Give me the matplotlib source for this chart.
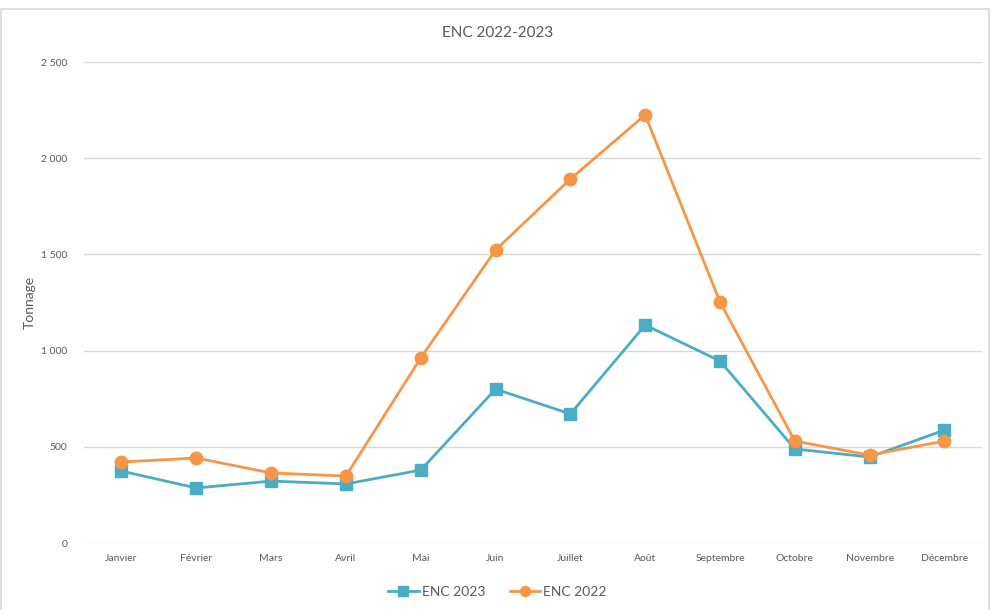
import matplotlib
matplotlib.use("Agg")
from matplotlib import pyplot as plt
from matplotlib.patches import Rectangle
from matplotlib.ticker import FuncFormatter

plt.rcParams['font.family'] = ['Lato', 'DejaVu Sans']

mois = ['Janvier', 'Février', 'Mars', 'Avril', 'Mai', 'Juin', 'Juillet',
        'Août', 'Septembre', 'Octobre', 'Novembre', 'Décembre']
enc_2023 = [374, 286, 322, 307, 379, 800, 671, 1133, 946, 489, 447, 587]
enc_2022 = [421, 442, 364, 348, 962, 1523, 1892, 2225, 1253, 530, 457, 530]

blue = '#4BACC6'
orange = '#F79646'
txt = '#595959'

fig = plt.figure(figsize=(9.91, 6.10), dpi=100)
# cadre du graphique
fig.patches.append(Rectangle((0.001, -0.01), 0.997, 0.995, transform=fig.transFigure,
                             fill=False, edgecolor='#D9D9D9', linewidth=1.2))

ax = fig.add_axes([0.0848, 0.1098, 0.906, 0.7885])
x = range(len(mois))
ax.plot(x, enc_2023, color=blue, linewidth=2, marker='s', markersize=9, label='ENC 2023')
ax.plot(x, enc_2022, color=orange, linewidth=2, marker='o', markersize=9, label='ENC 2022')

ax.set_xlim(-0.5, 11.5)
ax.set_ylim(0, 2500)
ax.set_yticks(range(0, 2501, 500))
ax.yaxis.set_major_formatter(FuncFormatter(lambda v, p: f"{int(v):,}".replace(',', ' ')))
ax.set_xticks(list(x))
ax.set_xticklabels(mois)
ax.tick_params(axis='both', length=0, labelsize=7.5, labelcolor=txt)
ax.tick_params(axis='x', pad=8)
ax.tick_params(axis='y', pad=12)
ax.grid(axis='y', color='#D9D9D9', linewidth=1)
ax.set_axisbelow(True)
for s in ax.spines.values():
    s.set_visible(False)

ax.set_ylabel('Tonnage', fontsize=10, color=txt, labelpad=4)
fig.text(0.502, 0.946, 'ENC 2022-2023', ha='center', va='center', fontsize=11, color=txt)

fig.legend(loc='center', bbox_to_anchor=(0.502, 0.03), ncol=2, frameon=False,
           fontsize=10, labelcolor=txt, handlelength=2.2, columnspacing=1.8,
           handletextpad=0.2, markerscale=0.8)

fig.savefig('out.png', dpi=100)
